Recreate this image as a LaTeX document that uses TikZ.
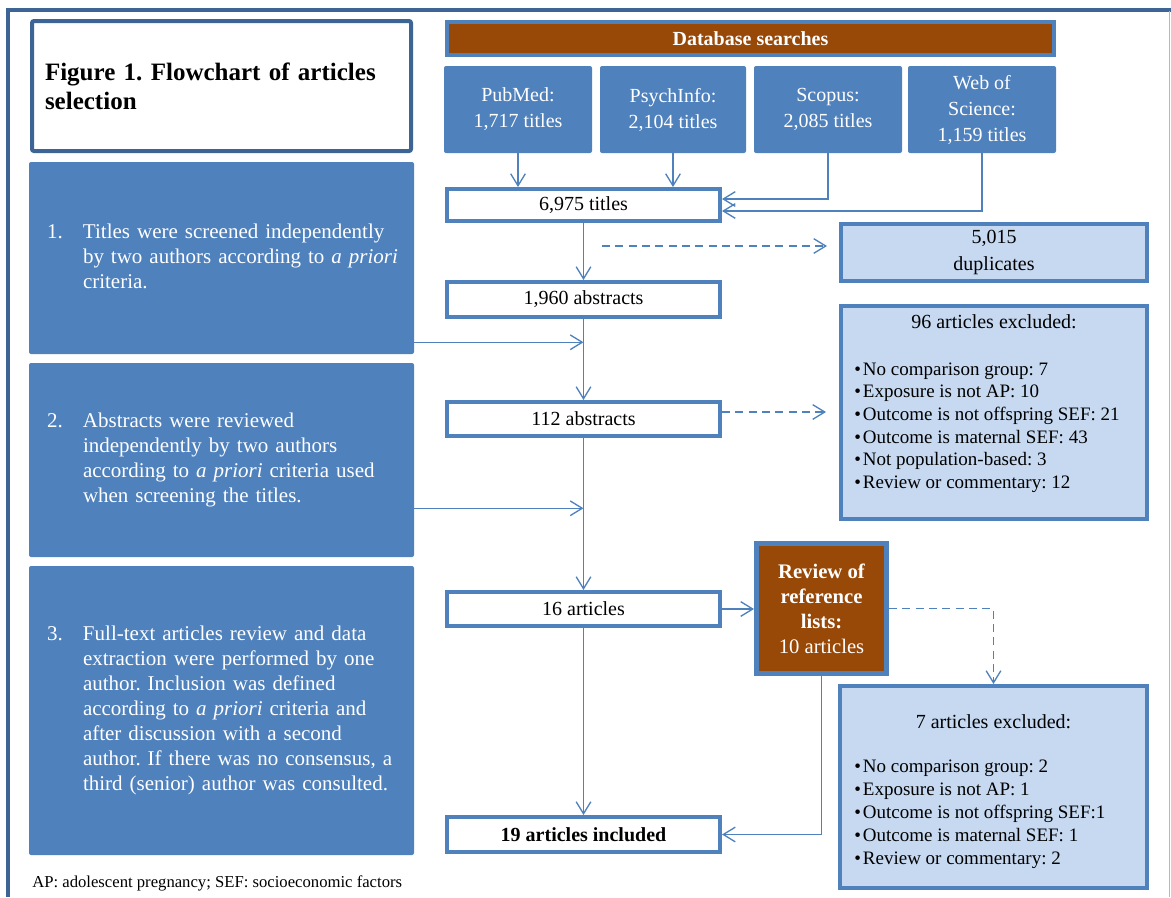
\documentclass[tikz,border=0pt]{standalone}
\usepackage{fontspec}
\setmainfont{Liberation Serif}
\frenchspacing
\usetikzlibrary{arrows.meta,calc}
\definecolor{mblue}{HTML}{4F81BD}
\definecolor{dblue}{HTML}{3C6494}
\definecolor{lblue}{HTML}{C6D9F1}
\definecolor{mbrown}{HTML}{984807}
\definecolor{frameR}{HTML}{A9BBD1}
\tikzset{
  titlebox/.style={draw=dblue, line width=3pt, fill=white, rounded corners=1.5pt,
    minimum width=284.25pt, minimum height=97.5pt, text width=264.75pt, inner xsep=9.75pt,
    inner ysep=0pt, align=left, font=\bfseries\frenchspacing\fontsize{18.75pt}{22pt}\selectfont},
  dbhead/.style={draw=mblue, line width=3pt, fill=mbrown, text=white, minimum width=455.25pt,
    minimum height=24.75pt, inner sep=0pt, font=\bfseries\fontsize{15pt}{18pt}\selectfont},
  dbbox/.style={fill=mblue, rounded corners=1.5pt, text=white, minimum width=111pt,
    minimum height=65.25pt, align=center, inner sep=0pt, font=\fontsize{15pt}{19.5pt}\selectfont},
  flowbox/.style={draw=mblue, line width=3pt, fill=white, minimum width=204.75pt,
    inner sep=0pt, font=\fontsize{15pt}{18pt}\selectfont},
  stepbox/.style={fill=mblue, rounded corners=1.5pt, text=white, minimum width=288.75pt,
    text width=261.75pt, inner xsep=13.5pt, inner ysep=0pt, align=left,
    font=\frenchspacing\fontsize{15.75pt}{18.75pt}\selectfont},
  exclbox/.style={draw=mblue, line width=3pt, fill=lblue, inner sep=0pt, minimum width=229.5pt},
  revbox/.style={draw=mblue, line width=3.75pt, fill=mbrown, text=white, minimum width=97.5pt,
    minimum height=97.5pt, inner sep=0pt, align=center, font=\fontsize{15.5pt}{18.75pt}\selectfont},
  listtext/.style={align=left, inner sep=0pt, font=\fontsize{14.25pt}{17pt}\selectfont},
  headtext/.style={inner sep=0pt, font=\fontsize{15pt}{18pt}\selectfont},
  arr/.style={draw=mblue, line width=1pt, -{Straight Barb[length=9pt,width=11pt]}},
  dasharr/.style={arr, dash pattern=on 6pt off 4pt},
}
\newcommand{\bul}{\makebox[6.5pt][l]{\textbullet}}
\begin{document}
\begin{tikzpicture}[x=0.75pt,y=-0.75pt]
\useasboundingbox (0,0) rectangle (1171,897);
% outer frame
\draw[dblue, line width=3pt] (8,897) -- (8,9.5) -- (1171,9.5);
\draw[frameR, line width=1.2pt] (1169.5,11) -- (1169.5,897);

% title
\node[titlebox] (title) at (221.5,86) {Figure 1. Flowchart of articles\\selection};

% database searches
\node[dbhead] (dbh) at (750.5,38.5) {Database searches};
\node[dbbox] (pub) at (518,109.5) {PubMed:\\1,717 titles};
\node[dbbox, minimum width=109.5pt] (psy) at (673,109.5) {PsychInfo:\\2,104 titles};
\node[dbbox] (sco) at (828,109.5) {Scopus:\\2,085 titles};
\node[dbbox] (wos) at (982,109.5) {Web of\\Science:\\1,159 titles};

% flow boxes
\node[flowbox, minimum height=24pt] (t6975) at (583.5,205) {6,975 titles};
\node[flowbox, minimum height=26.25pt] (a1960) at (583.5,299.5) {1,960 abstracts};
\node[flowbox, minimum height=25.5pt] (a112) at (583.5,419) {112 abstracts};
\node[flowbox, minimum height=25.5pt] (a16) at (583.5,609) {16 articles};
\node[flowbox, minimum height=26.25pt, font=\bfseries\fontsize{15pt}{18pt}\selectfont] (inc19) at (583.5,834.5) {19 articles included};

% step boxes
\node[stepbox, minimum height=144pt] (s1) at (221.5,258) {\begin{tabular}{@{}p{27pt}@{}l@{}}
1. & Titles were screened independently\\
   & by two authors according to \textit{a priori}\\
   & criteria.\end{tabular}};
\node[stepbox, minimum height=145.5pt] (s2) at (221.5,460) {\begin{tabular}{@{}p{27pt}@{}l@{}}
2. & Abstracts were reviewed\\
   & independently by two authors\\
   & according to \textit{a priori} criteria used\\
   & when screening the titles.\end{tabular}};
\node[stepbox, minimum height=216.75pt] (s3) at (221.5,710.5) {\begin{tabular}{@{}p{27pt}@{}l@{}}
3. & Full-text articles review and data\\
   & extraction were performed by one\\
   & author. Inclusion was defined\\
   & according to \textit{a priori} criteria and\\
   & after discussion with a second\\
   & author. If there was no consensus, a\\
   & third (senior) author was consulted.\end{tabular}};

% exclusion boxes
\node[exclbox, minimum height=42.75pt, align=center, font=\fontsize{15pt}{20pt}\selectfont] (dup) at (994,252.5) {5,015\\duplicates};
\node[exclbox, minimum height=159.75pt] (ex96) at (994,412.5) {};
\node[headtext] (ex96t) at (994,322) {96 articles excluded:};
\node[listtext, anchor=west] (ex96l) at (854,427.5) {\bul No comparison group: 7\\
\bul Exposure is not AP: 10\\
\bul Outcome is not offspring SEF: 21\\
\bul Outcome is maternal SEF: 43\\
\bul Not population-based: 3\\
\bul Review or commentary: 12};

\node[revbox] (rev) at (821.5,608.5) {\textbf{Review of}\\\textbf{reference}\\\textbf{lists:}\\10 articles};

\node[exclbox, minimum width=230.25pt, minimum height=151.5pt] (ex7) at (993.5,787) {};
\node[headtext] (ex7t) at (993.5,722) {7 articles excluded:};
\node[listtext, anchor=west, font=\fontsize{14.25pt}{17.25pt}\selectfont] (ex7l) at (854,814) {\bul No comparison group: 2\\
\bul Exposure is not AP: 1\\
\bul Outcome is not offspring SEF:1\\
\bul Outcome is maternal SEF: 1\\
\bul Review or commentary: 2};

% footnote
\node[anchor=west, inner sep=0pt, font=\fontsize{12.5pt}{15pt}\selectfont] (note) at (32,883) {AP: adolescent pregnancy; SEF: socioeconomic factors};

% connectors
\draw[arr] (pub.south) -- (pub.south |- t6975.north);
\draw[arr] (psy.south) -- (psy.south |- t6975.north);
\draw[arr] (sco.south) |- ($(t6975.east)+(0,-6)$);
\draw[arr] (wos.south) |- ($(t6975.east)+(0,6)$);
\draw[arr] (t6975.south) -- (a1960.north);
\coordinate (d1s) at (602,246);
\coordinate (d1e) at (827,246);
\draw[dasharr] (d1s) -- (d1e);
\draw[arr] (a1960.south) -- (a112.north);
\path (s1.south east) ++(0,-12) coordinate (s1o);
\draw[arr] (s1o) -- (s1o -| a1960.south);
\path (a112.east) ++(0,-7) coordinate (x1s);
\coordinate (x1e) at (826,412);
\draw[dasharr] (x1s) -- (x1e);
\path (s2.south east) ++(0,-49) coordinate (s2o);
\draw[arr] (s2o) -- (s2o -| a112.south);
\draw[arr] (a112.south) -- (a16.north);
\draw[arr] (a16.east) -- (a16.east -| rev.west);
\draw[arr] (a16.south) -- (inc19.north);
\draw[dasharr] (rev.east) -| (ex7.north);
\draw[arr] (rev.south) |- (inc19.east);
\end{tikzpicture}
\end{document}
